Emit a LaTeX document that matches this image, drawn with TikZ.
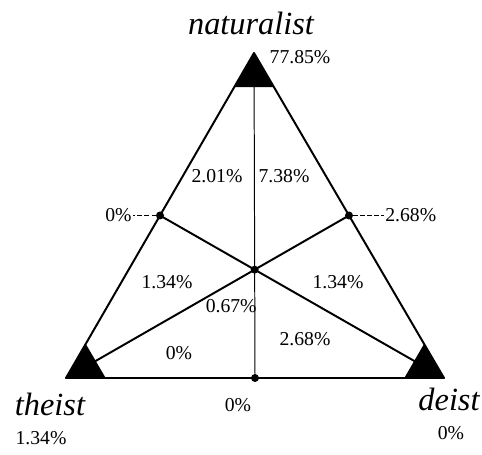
\documentclass[tikz,border=0pt]{standalone}
\usepackage{fontspec}
\setmainfont{Liberation Serif}
\usetikzlibrary{positioning, calc}

\begin{document}
\begin{tikzpicture}[
    corner/.style={font=\fontsize{23}{26}\selectfont\itshape,
        inner sep=0pt, anchor=base},
    pct/.style={font=\fontsize{14}{16}\selectfont, inner sep=1pt},
    side/.style={line width=1.4pt, line join=round},
    median/.style={line width=1.4pt},
    axis/.style={line width=0.7pt},
    stub/.style={densely dashed, line width=0.6pt},
    hub/.style={circle, fill=black, inner sep=0pt, minimum size=0.2cm}
]
\useasboundingbox (0,0) rectangle (12.05,11.35);

% ===================================================================
% CORNERS AND MIDPOINTS
% ===================================================================
\coordinate (T) at (6.35,10.025);
\coordinate (L) at (1.65,1.9);
\coordinate (R) at (11.1,1.9);
\coordinate (mTL) at ($(T)!0.5!(L)$);
\coordinate (mTR) at ($(T)!0.5!(R)$);
\coordinate (mLR) at ($(L)!0.5!(R)$);
\coordinate (C) at ($(mLR)!1/3!(T)$);

% ===================================================================
% TRIANGLE AND MEDIANS
% ===================================================================
\draw[side] (T) -- (L) -- (R) -- cycle;
\draw[axis] (T) -- (mLR);
\draw[median] (L) -- (mTR);
\draw[median] (R) -- (mTL);

% corner markers
\foreach \v/\p/\q in {T/L/R, L/T/R, R/T/L}
    \fill (\v) -- ($(\v)!0.105!(\p)$) -- ($(\v)!0.105!(\q)$) -- cycle;

% dots
\node[hub] (dotTL) at (mTL) {};
\node[hub] (dotTR) at (mTR) {};
\node[hub] (dotLR) at (mLR) {};
\node[hub] (dotC) at (C) {};

% ===================================================================
% CORNER LABELS
% ===================================================================
\node[corner] (natName) at ($(T)+(-0.075,0.45)$) {naturalist};
\node[pct, anchor=west] (natPct) at ($(T)+(0.35,-0.1)$) {77.85\%};

\node[corner] (theName) at ($(L)+(-0.4,-0.925)$) {theist};
\node[pct] (thePct) at (1.025,0.4) {1.34\%};

\node[corner] (deiName) at ($(R)+(0.125,-0.8)$) {deist};
\node[pct] (deiPct) at (11.275,0.525) {0\%};

% ===================================================================
% REGION LABELS
% ===================================================================
\node[pct] (upL) at (5.425,6.95) {2.01\%};
\node[pct] (upR) at (7.1,6.95) {7.38\%};
\node[pct] (midL) at (4.175,4.3) {1.34\%};
\node[pct] (midR) at (8.45,4.3) {1.34\%};
\node[pct] (ctr) at (5.78,3.7) {0.67\%};
\node[pct] (lowL) at (4.475,2.525) {0\%};
\node[pct] (lowR) at (7.625,2.875) {2.68\%};
\node[pct] (base) at (5.95,1.225) {0\%};

% side labels with dashed stubs
\node[pct, left=0.56cm of dotTL] (outL) {0\%};
\node[pct, right=0.76cm of dotTR] (outR) {2.68\%};
\draw[stub] (dotTL) -- (outL);
\draw[stub] (dotTR) -- (outR);

\end{tikzpicture}
\end{document}
